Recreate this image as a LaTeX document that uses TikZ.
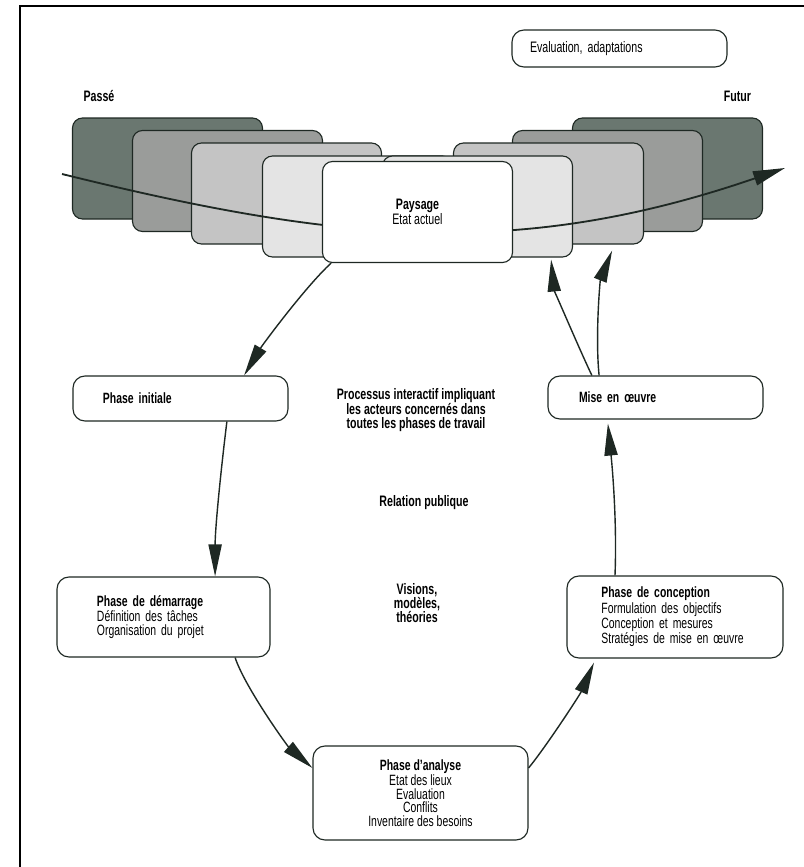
\documentclass[tikz,border=0pt]{standalone}
\usepackage{fontspec}
\setmainfont{Liberation Sans}[FakeStretch=0.7]
\usetikzlibrary{arrows.meta}
\usetikzlibrary{positioning}
\definecolor{inkcol}{HTML}{1E2823}
\definecolor{cardA}{HTML}{6A7770}
\definecolor{cardB}{HTML}{9A9C9A}
\definecolor{cardC}{HTML}{C4C4C4}
\definecolor{cardD}{HTML}{E4E4E4}
\tikzset{
  % outer frame of the page
  frame/.style = {
    draw = black,
    line width = 2pt
  },
  % one layer of the landscape in time
  card/.style = {
    draw = inkcol,
    line width = 0.8pt,
    rounded corners = 2.5mm,
    minimum width = 47.5mm,
    minimum height = 25.25mm,
    align = center,
    font = \fontsize{10.8}{9.8}\selectfont
  },
  % rounded box of a phase
  phase/.style = {
    draw = inkcol,
    line width = 0.8pt,
    rounded corners = 3mm,
    fill = white,
    align = left,
    inner ysep = 0pt,
    font = \fontsize{10.6}{9.6}\selectfont
  },
  % free text in the middle of the loop
  note/.style = {
    align = center,
    inner sep = 0pt,
    font = \bfseries\fontsize{10.8}{9.8}\selectfont
  },
  tag/.style = {
    note
  }
}
\tikzset {
  % arrow of the loop
  flow/.style = {
    draw = inkcol,
    line width = 1pt,
    -{Triangle[length=8mm, width=3.3mm]}
  },
  % arrow from past to future
  timeline/.style = {
    draw = inkcol,
    line width = 1.3pt,
    -{Triangle[length=8mm, width=3.6mm]}
  }
}
\begin{document}
\begin{tikzpicture}[x=0.25mm, y=-0.25mm]
  \useasboundingbox (0,0) rectangle (804,867);
  \draw[frame] (804,6) -- (20,6) -- (20,867);

  % layers, back to front
  \node[card, fill=cardA] (pastA) at (167.5,168.5) {};
  \node[card, fill=cardA] (futA) at (667.5,168.5) {};
  \node[card, fill=cardB] (pastB) at (227.5,181) {};
  \node[card, fill=cardB] (futB) at (607.5,181) {};
  \node[card, fill=cardC] (pastC) at (286.5,193.5) {};
  \node[card, fill=cardC] (futC) at (548.5,193.5) {};
  \node[card, fill=cardD] (pastD) at (357.5,206.5) {};
  \node[card, fill=cardD] (futD) at (477.5,206.5) {};

  \coordinate (then) at (62,174);
  \coordinate (later) at (785,168);
  \draw[timeline] (then) .. controls (337,242) and (517,260) .. (later);

  \node[card, fill=white] (landscape) at (417.5,212) {\textbf{Paysage}\\Etat actuel};

  \node[tag] (pastlabel) at (99,96) {Passé};
  \node[tag] (futurelabel) at (737.5,96) {Futur};
  \node[phase, text width=44.75mm, inner xsep=4.5mm, minimum height=9.25mm,
    font=\fontsize{10.8}{9.8}\selectfont] (review) at (619.5,48.5) {Evaluation, adaptations};

  % phases of the loop
  \node[phase, text width=38.75mm, inner xsep=7.5mm, minimum height=11.25mm] (initial)
    at (180.5,398.5) {\textbf{Phase initiale}};
  \node[phase, text width=38.25mm, inner xsep=7.75mm, minimum height=10.75mm] (rollout)
    at (655.5,397.5) {\textbf{Mise en œuvre}};
  \node[phase, text width=33.25mm, inner xsep=10mm, minimum height=20mm] (start)
    at (163.5,617) {\textbf{Phase de démarrage}\\Définition des tâches\\Organisation du projet};
  \node[phase, text width=36.8mm, inner xsep=8.6mm, minimum height=20.5mm] (design)
    at (675,617) {\textbf{Phase de conception}\\Formulation des objectifs\\Conception et mesures\\Stratégies de mise en œuvre};
  \node[phase, align=center, minimum width=53.75mm, minimum height=23.5mm] (analysis)
    at (420.5,793) {\textbf{Phase d'analyse}\\Etat des lieux\\Evaluation\\Conflits\\Inventaire des besoins};

  \node[note] (process) at (416,410) {Processus interactif impliquant\\les acteurs concernés dans\\toutes les phases de travail};
  \node[note] (relation) at (424,503) {Relation publique};
  \node[note] (vision) at (417,603) {Visions,\\modèles,\\théories};

  \draw[flow] ([xshift=-21.6mm]landscape.south)
    .. controls +(-26,24) and +(18,-30) .. ([xshift=15.9mm]initial.north);
  \draw[flow] ([xshift=11.6mm]initial.south)
    .. controls +(-5,40) and +(0,-50) .. ([xshift=12.9mm]start.north);
  \draw[flow] ([xshift=17.9mm]start.south)
    .. controls +(10,30) and +(-25,-22) .. ([yshift=6.25mm]analysis.west);
  \draw[flow] ([yshift=6.25mm]analysis.east)
    .. controls +(18,-22) and +(-14,32) .. ([xshift=-20.25mm, yshift=-1mm]design.south);
  \draw[flow] ([xshift=-15mm]design.north)
    .. controls +(2,-50) and +(5,50) .. ([xshift=-11.9mm, yshift=-1mm]rollout.south);
  \draw[flow] ([xshift=-15.9mm]rollout.north)
    .. controls +(-12,-25) and +(3,30) .. ([xshift=18.4mm, yshift=-0.5mm]futD.south);
  \draw[flow] ([xshift=-14.1mm]rollout.north)
    .. controls +(-4,-40) and +(-12,30) .. ([xshift=15.9mm, yshift=-1.5mm]futC.south);
\end{tikzpicture}
\end{document}
